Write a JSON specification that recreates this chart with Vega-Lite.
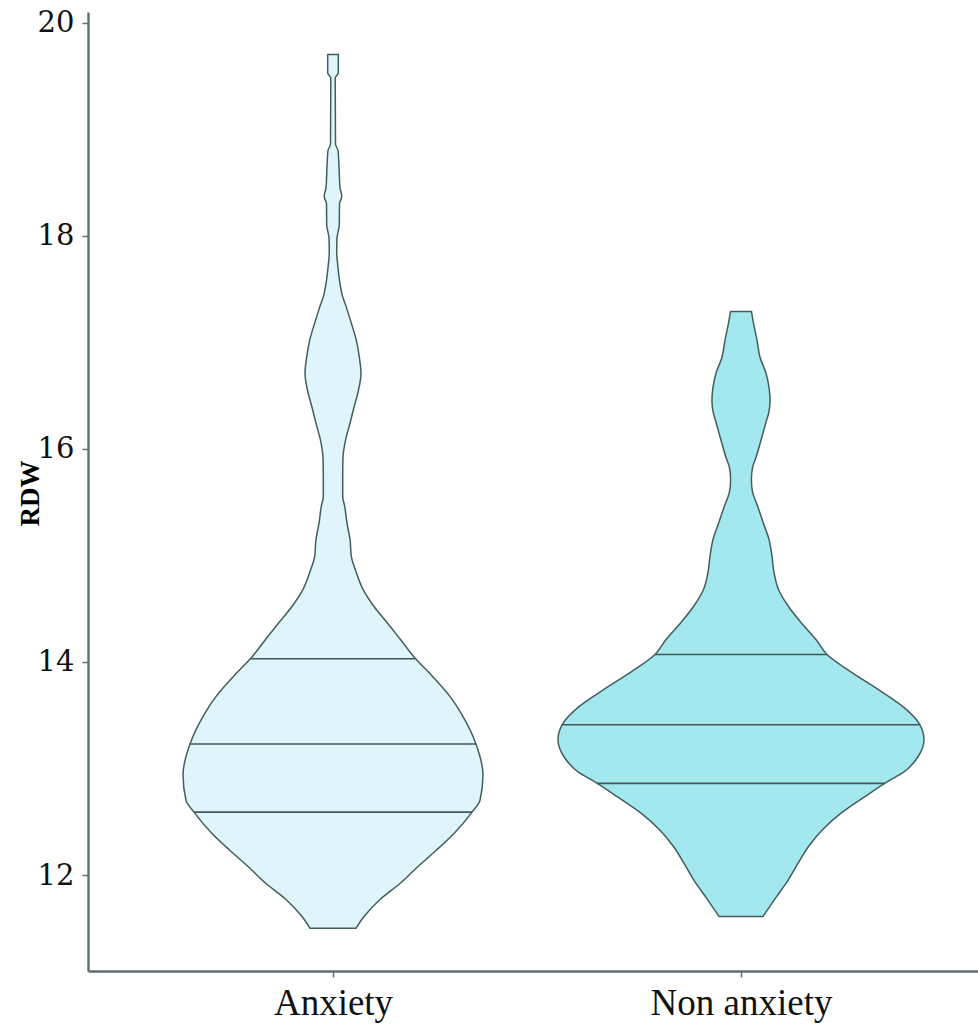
{
  "$schema": "https://vega.github.io/schema/vega-lite/v6.json",
  "width": 890,
  "height": 959,
  "autosize": {"type": "none"},
  "padding": {"left": 88, "top": 12, "right": 0, "bottom": 53},
  "background": "white",
  "config": {"view": {"stroke": null}, "axis": {"grid": false}},
  "datasets": {
    "violin": [
      {"group": "Anxiety", "pos": 1, "rdw": 11.50, "hw": 0.0564},
      {"group": "Anxiety", "pos": 1, "rdw": 11.61, "hw": 0.0760},
      {"group": "Anxiety", "pos": 1, "rdw": 11.77, "hw": 0.1152},
      {"group": "Anxiety", "pos": 1, "rdw": 11.92, "hw": 0.1642},
      {"group": "Anxiety", "pos": 1, "rdw": 12.08, "hw": 0.2083},
      {"group": "Anxiety", "pos": 1, "rdw": 12.23, "hw": 0.2525},
      {"group": "Anxiety", "pos": 1, "rdw": 12.39, "hw": 0.2966},
      {"group": "Anxiety", "pos": 1, "rdw": 12.59, "hw": 0.3407},
      {"group": "Anxiety", "pos": 1, "rdw": 12.70, "hw": 0.3603},
      {"group": "Anxiety", "pos": 1, "rdw": 12.94, "hw": 0.3676},
      {"group": "Anxiety", "pos": 1, "rdw": 13.23, "hw": 0.3505},
      {"group": "Anxiety", "pos": 1, "rdw": 13.52, "hw": 0.3137},
      {"group": "Anxiety", "pos": 1, "rdw": 13.67, "hw": 0.2880},
      {"group": "Anxiety", "pos": 1, "rdw": 13.90, "hw": 0.2353},
      {"group": "Anxiety", "pos": 1, "rdw": 14.04, "hw": 0.2002},
      {"group": "Anxiety", "pos": 1, "rdw": 14.21, "hw": 0.1654},
      {"group": "Anxiety", "pos": 1, "rdw": 14.37, "hw": 0.1324},
      {"group": "Anxiety", "pos": 1, "rdw": 14.52, "hw": 0.1005},
      {"group": "Anxiety", "pos": 1, "rdw": 14.68, "hw": 0.0735},
      {"group": "Anxiety", "pos": 1, "rdw": 14.84, "hw": 0.0571},
      {"group": "Anxiety", "pos": 1, "rdw": 14.99, "hw": 0.0449},
      {"group": "Anxiety", "pos": 1, "rdw": 15.15, "hw": 0.0417},
      {"group": "Anxiety", "pos": 1, "rdw": 15.30, "hw": 0.0343},
      {"group": "Anxiety", "pos": 1, "rdw": 15.46, "hw": 0.0287},
      {"group": "Anxiety", "pos": 1, "rdw": 15.55, "hw": 0.0238},
      {"group": "Anxiety", "pos": 1, "rdw": 15.77, "hw": 0.0238},
      {"group": "Anxiety", "pos": 1, "rdw": 15.92, "hw": 0.0245},
      {"group": "Anxiety", "pos": 1, "rdw": 16.08, "hw": 0.0306},
      {"group": "Anxiety", "pos": 1, "rdw": 16.24, "hw": 0.0417},
      {"group": "Anxiety", "pos": 1, "rdw": 16.39, "hw": 0.0515},
      {"group": "Anxiety", "pos": 1, "rdw": 16.55, "hw": 0.0625},
      {"group": "Anxiety", "pos": 1, "rdw": 16.71, "hw": 0.0686},
      {"group": "Anxiety", "pos": 1, "rdw": 16.86, "hw": 0.0645},
      {"group": "Anxiety", "pos": 1, "rdw": 17.02, "hw": 0.0571},
      {"group": "Anxiety", "pos": 1, "rdw": 17.18, "hw": 0.0449},
      {"group": "Anxiety", "pos": 1, "rdw": 17.33, "hw": 0.0326},
      {"group": "Anxiety", "pos": 1, "rdw": 17.45, "hw": 0.0221},
      {"group": "Anxiety", "pos": 1, "rdw": 17.55, "hw": 0.0172},
      {"group": "Anxiety", "pos": 1, "rdw": 17.70, "hw": 0.0123},
      {"group": "Anxiety", "pos": 1, "rdw": 17.85, "hw": 0.0091},
      {"group": "Anxiety", "pos": 1, "rdw": 17.98, "hw": 0.0098},
      {"group": "Anxiety", "pos": 1, "rdw": 18.10, "hw": 0.0154},
      {"group": "Anxiety", "pos": 1, "rdw": 18.30, "hw": 0.0159},
      {"group": "Anxiety", "pos": 1, "rdw": 18.37, "hw": 0.0216},
      {"group": "Anxiety", "pos": 1, "rdw": 18.45, "hw": 0.0172},
      {"group": "Anxiety", "pos": 1, "rdw": 18.65, "hw": 0.0147},
      {"group": "Anxiety", "pos": 1, "rdw": 18.80, "hw": 0.0123},
      {"group": "Anxiety", "pos": 1, "rdw": 18.86, "hw": 0.0061},
      {"group": "Anxiety", "pos": 1, "rdw": 19.48, "hw": 0.0054},
      {"group": "Anxiety", "pos": 1, "rdw": 19.53, "hw": 0.0130},
      {"group": "Anxiety", "pos": 1, "rdw": 19.70, "hw": 0.0130},
      {"group": "Non anxiety", "pos": 2, "rdw": 11.61, "hw": 0.0539},
      {"group": "Non anxiety", "pos": 2, "rdw": 11.79, "hw": 0.0858},
      {"group": "Non anxiety", "pos": 2, "rdw": 11.95, "hw": 0.1152},
      {"group": "Non anxiety", "pos": 2, "rdw": 12.11, "hw": 0.1397},
      {"group": "Non anxiety", "pos": 2, "rdw": 12.26, "hw": 0.1642},
      {"group": "Non anxiety", "pos": 2, "rdw": 12.42, "hw": 0.1985},
      {"group": "Non anxiety", "pos": 2, "rdw": 12.58, "hw": 0.2451},
      {"group": "Non anxiety", "pos": 2, "rdw": 12.73, "hw": 0.3015},
      {"group": "Non anxiety", "pos": 2, "rdw": 12.89, "hw": 0.3652},
      {"group": "Non anxiety", "pos": 2, "rdw": 12.96, "hw": 0.3971},
      {"group": "Non anxiety", "pos": 2, "rdw": 13.11, "hw": 0.4338},
      {"group": "Non anxiety", "pos": 2, "rdw": 13.27, "hw": 0.4485},
      {"group": "Non anxiety", "pos": 2, "rdw": 13.41, "hw": 0.4387},
      {"group": "Non anxiety", "pos": 2, "rdw": 13.58, "hw": 0.3971},
      {"group": "Non anxiety", "pos": 2, "rdw": 13.74, "hw": 0.3370},
      {"group": "Non anxiety", "pos": 2, "rdw": 13.90, "hw": 0.2721},
      {"group": "Non anxiety", "pos": 2, "rdw": 14.07, "hw": 0.2108},
      {"group": "Non anxiety", "pos": 2, "rdw": 14.21, "hw": 0.1838},
      {"group": "Non anxiety", "pos": 2, "rdw": 14.37, "hw": 0.1471},
      {"group": "Non anxiety", "pos": 2, "rdw": 14.52, "hw": 0.1164},
      {"group": "Non anxiety", "pos": 2, "rdw": 14.68, "hw": 0.0919},
      {"group": "Non anxiety", "pos": 2, "rdw": 14.84, "hw": 0.0809},
      {"group": "Non anxiety", "pos": 2, "rdw": 14.99, "hw": 0.0760},
      {"group": "Non anxiety", "pos": 2, "rdw": 15.15, "hw": 0.0686},
      {"group": "Non anxiety", "pos": 2, "rdw": 15.30, "hw": 0.0551},
      {"group": "Non anxiety", "pos": 2, "rdw": 15.46, "hw": 0.0409},
      {"group": "Non anxiety", "pos": 2, "rdw": 15.60, "hw": 0.0280},
      {"group": "Non anxiety", "pos": 2, "rdw": 15.71, "hw": 0.0255},
      {"group": "Non anxiety", "pos": 2, "rdw": 15.82, "hw": 0.0280},
      {"group": "Non anxiety", "pos": 2, "rdw": 15.92, "hw": 0.0368},
      {"group": "Non anxiety", "pos": 2, "rdw": 16.08, "hw": 0.0490},
      {"group": "Non anxiety", "pos": 2, "rdw": 16.24, "hw": 0.0605},
      {"group": "Non anxiety", "pos": 2, "rdw": 16.34, "hw": 0.0680},
      {"group": "Non anxiety", "pos": 2, "rdw": 16.45, "hw": 0.0712},
      {"group": "Non anxiety", "pos": 2, "rdw": 16.57, "hw": 0.0690},
      {"group": "Non anxiety", "pos": 2, "rdw": 16.71, "hw": 0.0613},
      {"group": "Non anxiety", "pos": 2, "rdw": 16.86, "hw": 0.0466},
      {"group": "Non anxiety", "pos": 2, "rdw": 17.02, "hw": 0.0392},
      {"group": "Non anxiety", "pos": 2, "rdw": 17.18, "hw": 0.0306},
      {"group": "Non anxiety", "pos": 2, "rdw": 17.29, "hw": 0.0257}
    ],
    "quantiles": [
      {"group": "Anxiety", "pos": 1, "q": "25%", "rdw": 12.59, "hw": 0.3407},
      {"group": "Anxiety", "pos": 1, "q": "50%", "rdw": 13.23, "hw": 0.3505},
      {"group": "Anxiety", "pos": 1, "q": "75%", "rdw": 14.03, "hw": 0.2010},
      {"group": "Non anxiety", "pos": 2, "q": "25%", "rdw": 12.86, "hw": 0.3530},
      {"group": "Non anxiety", "pos": 2, "q": "50%", "rdw": 13.41, "hw": 0.4387},
      {"group": "Non anxiety", "pos": 2, "q": "75%", "rdw": 14.07, "hw": 0.2108}
    ]
  },
  "encoding": {
    "y": {
      "field": "rdw",
      "type": "quantitative",
      "scale": {"domain": [11.099, 20.1], "nice": false, "zero": false},
      "axis": {
        "values": [12, 14, 16, 18, 20],
        "title": "RDW",
        "titleFont": "Liberation Serif",
        "titleFontSize": 27,
        "titleFontWeight": "bold",
        "titleColor": "#000000",
        "titleAngle": -90,
        "titleX": -58,
        "titleY": 481,
        "titleAlign": "center",
        "titleBaseline": "middle",
        "labelFont": "DejaVu Serif",
        "labelFontSize": 29,
        "labelColor": "#111111",
        "labelPadding": 8,
        "tickSize": 6,
        "tickWidth": 1.5,
        "tickColor": "#5b7070",
        "domainColor": "#5b7070",
        "domainWidth": 2.4
      }
    }
  },
  "layer": [
    {
      "data": {"name": "violin"},
      "transform": [
        {"calculate": "datum.pos - datum.hw", "as": "xl"},
        {"calculate": "datum.pos + datum.hw", "as": "xr"}
      ],
      "mark": {"type": "area", "orient": "horizontal", "interpolate": "monotone", "stroke": "#435d5d", "strokeWidth": 1.5, "opacity": 1},
      "encoding": {
        "x": {
          "field": "xl",
          "type": "quantitative",
          "scale": {"domain": [0.3995, 2.5809], "nice": false, "zero": false},
          "axis": {
            "values": [1, 2],
            "labelExpr": "datum.value == 1 ? 'Anxiety' : 'Non anxiety'",
            "title": null,
            "labelFont": "Liberation Serif",
            "labelFontSize": 37,
            "labelLimit": 500,
            "labelColor": "#111111",
            "labelPadding": 8,
            "tickSize": 6,
            "tickWidth": 1.5,
            "tickColor": "#5b7070",
            "domainColor": "#5b7070",
            "domainWidth": 2.4
          }
        },
        "x2": {"field": "xr"},
        "color": {
          "field": "group",
          "type": "nominal",
          "scale": {"domain": ["Anxiety", "Non anxiety"], "range": ["#E0F5FB", "#A4E8EF"]},
          "legend": null
        }
      }
    },
    {
      "data": {"name": "quantiles"},
      "transform": [
        {"calculate": "datum.pos - datum.hw", "as": "xl"},
        {"calculate": "datum.pos + datum.hw", "as": "xr"}
      ],
      "mark": {"type": "rule", "color": "#3f5858", "strokeWidth": 1.6},
      "encoding": {
        "x": {"field": "xl", "type": "quantitative"},
        "x2": {"field": "xr"}
      }
    }
  ]
}
